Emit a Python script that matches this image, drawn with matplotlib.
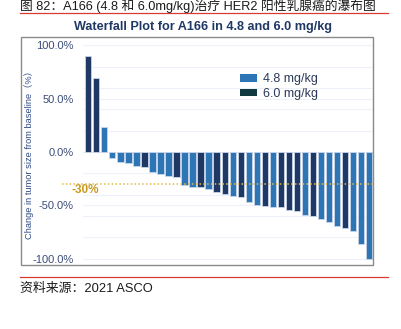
import matplotlib
matplotlib.use("Agg")
import matplotlib.pyplot as plt
from matplotlib.patches import Patch, Rectangle
from matplotlib.lines import Line2D

plt.rcParams['font.family'] = ['Liberation Sans', 'Noto Sans CJK SC', 'DejaVu Sans']

# ---- data ----
values = [90, 69, 23, -5.5, -9, -10, -13, -14, -18.5, -21, -22.5, -23.5,
          -31, -32.5, -33, -35, -37.5, -39, -41, -42, -46.5, -49.5, -51, -51.5,
          -52, -54, -55, -59.5, -60, -63, -65.5, -69, -71.5, -74, -86, -100]
doses = ['6.0', '6.0', '4.8', '4.8', '4.8', '4.8', '4.8', '6.0', '4.8', '4.8', '4.8', '6.0',
         '4.8', '4.8', '6.0', '4.8', '6.0', '6.0', '4.8', '6.0', '4.8', '4.8', '6.0', '4.8',
         '6.0', '6.0', '6.0', '4.8', '6.0', '4.8', '4.8', '4.8', '6.0', '4.8', '4.8', '4.8']
yticks = [100, 50, 0, -50, -100]
ytick_labels = ['100.0%', '50.0%', '0.0%', '-50.0%', '-100.0%']
threshold = -30
legend_labels = ['4.8 mg/kg', '6.0 mg/kg']

W, H = 401, 329
fig = plt.figure(figsize=(W / 100, H / 100), dpi=100)

def fx(px):
    return px / W

def fy(py):
    return 1 - py / H

light = '#2e75b6'
dark = '#1f3864'
colors = [light if d == '4.8' else dark for d in doses]

# axes area
ax_l, ax_r, ax_t, ax_b = 83, 373, 36.7, 265
ax = fig.add_axes([fx(ax_l), fy(ax_b), fx(ax_r - ax_l), (ax_b - ax_t) / H])
x = list(range(len(values)))
ax.bar(x, values, width=0.78, color=colors, edgecolor='#c9d6ea', linewidth=0.6, zorder=3)
ax.set_xlim(-0.66, 35.5)
ax.set_ylim(-105.9, 108.1)
ax.set_yticks(yticks)
ax.set_yticks([-80, -60, -40, -20, 20, 40, 60, 80], minor=True)
ax.yaxis.grid(True, which='both', color='#edf2fa', linewidth=0.8, zorder=0)
ax.set_yticklabels(ytick_labels, fontsize=8, color='#3b4c78')
ax.tick_params(axis='y', which='both', length=0, pad=6.5)
ax.set_xticks([])
for s in ax.spines.values():
    s.set_visible(False)
ax.set_facecolor('none')

# -30% line and label
ax.axhline(threshold, xmin=(61.7 - ax_l) / (ax_r - ax_l), xmax=1, color='#e3bb4a',
           linestyle=(0, (1, 1.5)), linewidth=1.1, clip_on=False, zorder=4)
ax.text((72 - ax_l) / (ax_r - ax_l), -35.5, f'{threshold}%', transform=ax.get_yaxis_transform(),
        ha='left', va='center', fontsize=8.5, fontweight='bold', color='#c99a1e')

# legend
handles = [Patch(facecolor=light, edgecolor='none'), Patch(facecolor='#0e3a40', edgecolor='none')]
fig.legend(handles, legend_labels, loc='upper left', bbox_to_anchor=(fx(240), fy(73.5)),
           frameon=False, fontsize=9, handlelength=1.36, handleheight=0.5,
           handletextpad=0.45, labelspacing=0.2, borderpad=0, borderaxespad=0,
           labelcolor='#2b3a5a')

# y label
fig.text(fx(29), fy(153), 'Change in tumor size from baseline（%）', rotation=90,
         ha='center', va='center', fontsize=6.7, color='#2f4a86')

# frame
fig.patches.append(Rectangle((fx(20.7), fy(265)), fx(373 - 20.7), (265 - 36.7) / H,
                             transform=fig.transFigure, fill=False, edgecolor='#8a8a8a',
                             linewidth=1.0))

# title
fig.text(fx(203), fy(26.7), 'Waterfall Plot for A166 in 4.8 and 6.0 mg/kg', ha='center',
         va='center', fontsize=9.1, fontweight='bold', color='#1f3864')

# header and footer
fig.text(fx(20), fy(6), '图 82：A166 (4.8 和 6.0mg/kg)治疗 HER2 阳性乳腺癌的瀑布图',
         ha='left', va='center', fontsize=9.2, color='#1a1a1a')
fig.add_artist(Line2D([fx(20), fx(388)], [fy(13.3), fy(13.3)], color='#d93a32', linewidth=0.9))
fig.add_artist(Line2D([fx(20), fx(388)], [fy(277.3), fy(277.3)], color='#d93a32', linewidth=0.9))
fig.text(fx(20), fy(289.3), '资料来源：2021 ASCO', ha='left', va='center', fontsize=9.3,
         color='#1a1a1a')

fig.savefig('out.png', dpi=100, facecolor='white')
